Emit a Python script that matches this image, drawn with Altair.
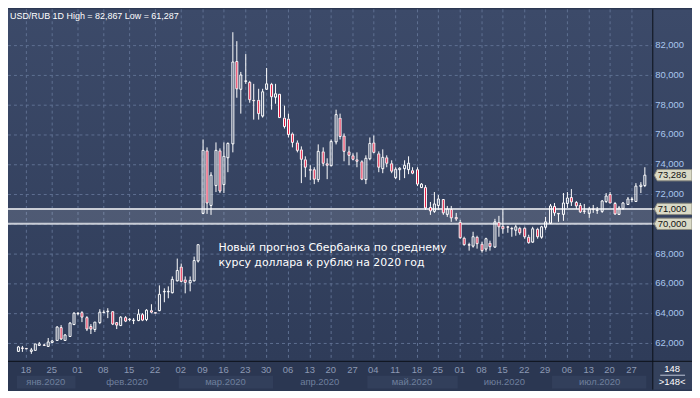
import altair as alt
import pandas as pd

# ---------------- data (USD/RUB daily candles) ----------------
opens = [61.50, 61.68, 61.65, 61.50, 61.56, 61.88, 61.90, 61.82, 62.04, 62.22,
         63.04, 62.22, 62.49, 63.27, 64.00, 64.04, 63.71, 63.11, 62.93, 63.38,
         64.07, 64.13, 64.11, 63.38, 63.20, 63.71, 63.60, 63.55, 63.51, 63.91,
         63.60, 64.20, 64.04, 64.22, 65.44, 65.46, 65.42, 66.22, 67.11, 66.27,
         66.04, 66.22, 67.56, 70.76, 74.93, 71.24, 72.60, 74.93, 72.64, 74.49,
         75.38, 80.93, 79.09, 79.58, 79.53, 78.32, 78.31, 77.27, 79.04, 79.38,
         78.56, 78.71, 77.16, 77.04, 76.04, 75.49, 74.98, 74.31, 73.65, 73.64,
         72.98, 74.87, 74.09, 73.91, 75.53, 77.11, 75.93, 74.87, 74.60, 74.36,
         74.20, 73.02, 74.38, 75.49, 74.76, 73.71, 74.49, 74.09, 73.16, 73.70,
         73.71, 73.64, 73.60, 73.64, 72.49, 72.49, 71.11, 70.89, 71.27, 71.64,
         70.66, 70.98, 70.44, 70.15, 69.04, 68.61, 68.53, 69.15, 68.66, 68.31,
         68.71, 68.44, 70.15, 69.86, 69.78, 69.71, 69.60, 69.71, 69.71, 69.15,
         68.82, 69.64, 69.11, 69.77, 70.09, 71.20, 70.72, 70.66, 71.38, 71.78,
         71.44, 71.27, 70.89, 70.75, 70.98, 70.93, 70.89, 71.51, 72.00, 71.42,
         70.64, 71.04, 71.33, 71.64, 71.55, 72.53, 72.60]
highs = [61.80, 61.78, 61.70, 61.64, 61.96, 62.04, 61.95, 62.33, 62.20, 63.11,
         63.20, 62.60, 63.38, 64.04, 64.04, 64.16, 63.78, 63.27, 63.42, 64.27,
         64.22, 64.31, 64.16, 63.42, 63.78, 63.78, 63.64, 63.64, 64.27, 64.00,
         64.27, 64.60, 64.09, 65.87, 65.64, 65.78, 66.44, 67.64, 67.33, 66.49,
         66.49, 67.82, 68.60, 75.67, 75.11, 73.49, 75.49, 75.09, 75.49, 75.49,
         82.867, 82.27, 80.20, 81.42, 79.60, 79.38, 79.04, 79.04, 80.49, 79.49,
         79.38, 78.75, 77.93, 77.38, 76.16, 75.60, 75.20, 74.53, 73.93, 73.78,
         75.33, 75.16, 74.38, 75.64, 77.64, 77.38, 76.09, 75.20, 74.76, 74.82,
         74.27, 74.60, 75.82, 75.93, 74.89, 74.98, 74.60, 74.27, 73.78, 73.78,
         74.27, 74.53, 73.78, 73.78, 72.71, 72.60, 71.49, 72.16, 71.93, 71.69,
         71.20, 71.20, 70.71, 70.27, 69.15, 68.75, 69.49, 69.20, 68.82, 69.04,
         68.89, 70.31, 70.53, 70.98, 69.86, 69.82, 69.93, 69.82, 69.78, 69.27,
         69.78, 69.71, 69.86, 70.44, 71.33, 71.38, 70.75, 72.09, 72.11, 72.31,
         71.55, 71.38, 71.33, 71.11, 71.27, 71.11, 71.60, 72.04, 72.15, 71.49,
         71.20, 71.49, 71.82, 71.82, 72.75, 72.82, 73.78]
lows = [61.42, 61.38, 61.60, 61.29, 61.52, 61.78, 61.85, 61.71, 62.00, 62.18,
        62.22, 62.18, 62.47, 63.20, 63.87, 63.42, 62.82, 62.58, 62.71, 63.27,
        63.98, 63.64, 63.22, 62.93, 63.11, 63.38, 63.49, 63.24, 63.47, 63.47,
        63.49, 64.00, 64.00, 64.16, 64.71, 64.98, 65.33, 66.11, 66.09, 65.33,
        65.49, 66.16, 67.38, 70.67, 70.67, 70.60, 72.16, 72.04, 72.04, 73.44,
        74.82, 78.49, 77.38, 79.38, 78.16, 76.98, 76.98, 77.16, 79.00, 77.64,
        78.04, 77.12, 76.38, 75.78, 75.16, 74.82, 72.71, 73.16, 72.93, 72.67,
        72.82, 73.87, 73.02, 73.87, 75.33, 75.64, 74.22, 73.96, 74.27, 73.78,
        72.93, 72.64, 74.27, 74.76, 73.49, 73.42, 73.78, 73.42, 73.02, 72.93,
        73.04, 73.33, 73.33, 72.53, 72.38, 70.93, 70.60, 70.71, 70.93, 70.60,
        70.49, 70.16, 70.22, 68.98, 68.53, 68.22, 68.38, 68.31, 68.09, 68.15,
        68.22, 68.38, 69.11, 69.33, 69.42, 69.11, 69.20, 69.27, 68.98, 68.66,
        68.75, 68.98, 68.98, 69.60, 70.00, 70.53, 70.15, 70.22, 71.04, 71.20,
        70.98, 70.71, 70.66, 70.40, 70.71, 70.66, 70.75, 71.42, 71.38, 70.57,
        70.57, 70.93, 71.27, 71.49, 71.49, 72.04, 72.49]
closes = [61.72, 61.66, 61.63, 61.56, 61.93, 61.91, 61.89, 62.04, 62.15, 63.04,
          62.27, 62.53, 63.31, 64.00, 63.98, 63.71, 62.93, 62.93, 63.38, 64.04,
          64.09, 64.16, 63.27, 63.22, 63.71, 63.49, 63.58, 63.56, 63.91, 63.56,
          64.20, 64.04, 64.03, 65.27, 65.47, 65.48, 66.27, 66.89, 66.16, 66.09,
          66.22, 67.56, 68.58, 74.93, 71.42, 73.27, 74.93, 72.22, 74.53, 75.38,
          80.87, 79.09, 80.00, 79.62, 78.31, 78.30, 77.42, 78.87, 79.38, 78.56,
          78.71, 77.16, 76.56, 76.00, 75.49, 74.93, 74.31, 73.78, 73.63, 72.98,
          74.87, 74.09, 73.96, 75.53, 77.33, 75.87, 74.87, 74.60, 74.36, 74.20,
          73.02, 74.38, 75.38, 74.82, 73.78, 74.49, 74.09, 73.56, 73.64, 73.71,
          73.93, 74.04, 73.42, 72.64, 72.64, 71.04, 70.89, 71.33, 71.64, 70.71,
          70.98, 70.38, 70.31, 69.04, 68.60, 68.59, 69.11, 68.66, 68.22, 68.98,
          68.44, 70.15, 69.78, 69.64, 69.77, 69.70, 69.82, 69.42, 69.11, 68.75,
          69.64, 69.11, 69.78, 70.15, 71.20, 70.71, 70.70, 71.38, 71.71, 71.44,
          71.20, 70.82, 70.88, 70.98, 70.97, 70.95, 71.55, 71.86, 71.42, 70.66,
          71.04, 71.38, 71.64, 71.65, 72.53, 72.60, 73.286]

tick_idx = [2, 8, 14, 20, 26, 32, 38, 43, 48, 53, 58, 63, 68, 73, 78, 83, 88, 93,
            98, 103, 108, 113, 118, 123, 128, 133, 138, 143]
tick_lab = ["18", "25", "01", "08", "15", "22", "02", "09", "16", "23", "30",
            "06", "13", "20", "27", "04", "11", "18", "25", "01", "08", "15",
            "22", "29", "06", "13", "20", "27"]
month_names = ["янв.2020", "фев.2020", "мар.2020", "апр.2020", "май.2020",
               "июн.2020", "июл.2020"]
month_start = [-0.2, 13.5, 37.5, 59.5, 81.5, 102.5, 124.5]
month_end = [13.5, 37.5, 59.5, 81.5, 102.5, 124.5, 146.6]
month_band = [1, 0, 1, 0, 1, 0, 1]

grid_vals = [62, 64, 66, 68, 70, 72, 74, 76, 78, 80, 82]
level_vals = [70.0, 71.0]
last_price = 73.286
title_text = "USD/RUB 1D High = 82,867 Low = 61,287"
note_lines = ["Новый прогноз Сбербанка по среднему", " курсу доллара к рублю на 2020 год"]
bars_count = "148"

# ---------------- frames ----------------
n = len(opens)
df = pd.DataFrame({"i": list(range(n)), "o": opens, "h": highs, "l": lows, "c": closes})
df["top"] = df[["o", "c"]].max(axis=1)
df["bot"] = df[["o", "c"]].min(axis=1)

ticks = pd.DataFrame({"i": tick_idx, "lab": tick_lab})
months = pd.DataFrame({"name": month_names, "s": month_start, "e": month_end, "band": month_band})
months["mid"] = (months.s + months.e) / 2
grid = pd.DataFrame({"v": grid_vals,
                     "lab": [f"{v:.3f}".replace(".", ",") for v in grid_vals]})
grid_lab = grid[grid.v != 70]
tags = pd.DataFrame({"v": level_vals + [last_price]})
tags["lab"] = [f"{v:.3f}".replace(".", ",") for v in tags.v]
one = pd.DataFrame({"k": [0]})

W, H = 689, 383
PX, PY = 649, 354  # plot area right / bottom (px)

xs = alt.Scale(domain=[-1.0713, 155.98], nice=False, zero=False, round=True)
ys = alt.Scale(domain=[58.8667, 84.4], nice=False, zero=False, round=True)

FONT = "Liberation Sans"
BG_BOTTOM = "#2b3752"
RED = "#e3143c"

bg = alt.Chart(one).mark_rect(
    color=alt.Gradient(gradient="linear",
                       stops=[alt.GradientStop(color="#3c4a69", offset=0),
                              alt.GradientStop(color="#2f3c59", offset=1)],
                       x1=0, x2=0, y1=0, y2=1)
).encode(x=alt.value(0), x2=alt.value(W), y=alt.value(0), y2=alt.value(PY))

corner = alt.Chart(one).mark_rect(color="#34415c").encode(
    x=alt.value(PX), x2=alt.value(W), y=alt.value(PY), y2=alt.value(H))

bands = alt.Chart(months[months.band == 1]).mark_rect(color="#323f5b").encode(
    x=alt.X("s:Q", scale=xs, axis=None), x2="e:Q",
    y=alt.value(369), y2=alt.value(382))

hgrid = alt.Chart(grid).mark_rule(color="#5f7091", strokeDash=[3, 3], yOffset=0.5).encode(
    y=alt.Y("v:Q", scale=ys, axis=None), x=alt.value(0), x2=alt.value(PX))

vgrid = alt.Chart(ticks).mark_rule(color="#5f7091", strokeDash=[3, 3], xOffset=0.5).encode(
    x=alt.X("i:Q", scale=xs, axis=None), y=alt.value(0), y2=alt.value(PY))

band_7071 = alt.Chart(pd.DataFrame({"a": [level_vals[0]], "b": [level_vals[1]]})).mark_rect(
    color="white", opacity=0.13).encode(
    y=alt.Y("a:Q", scale=ys, axis=None), y2="b:Q", x=alt.value(0), x2=alt.value(652))

level_lines = alt.Chart(pd.DataFrame({"v": level_vals})).mark_rule(
    color="#c9cdd6", strokeWidth=2).encode(
    y=alt.Y("v:Q", scale=ys, axis=None), x=alt.value(0), x2=alt.value(652))

X = alt.X("i:Q", scale=xs, axis=None)
upper = alt.Chart(df).mark_rule(color="white", strokeWidth=1, xOffset=0.5).encode(
    X, y=alt.Y("top:Q", scale=ys, axis=None), y2="h:Q")
lower = alt.Chart(df).mark_rule(color="white", strokeWidth=1, xOffset=0.5).encode(
    X, y=alt.Y("l:Q", scale=ys, axis=None), y2="bot:Q")
body = alt.Chart(df).mark_bar(size=2, stroke="white", strokeWidth=1, xOffset=0.5, yOffset=0.5).encode(
    X, y=alt.Y("o:Q", scale=ys, axis=None), y2="c:Q",
    fill=alt.condition("datum.c < datum.o", alt.value(RED), alt.value("transparent")))

sep_v = alt.Chart(one).mark_rule(color="#0c1018", strokeWidth=1).encode(
    x=alt.value(PX + 0.5), y=alt.value(0), y2=alt.value(H))
sep_h = alt.Chart(one).mark_rule(color="#0c1018", strokeWidth=1).encode(
    y=alt.value(PY + 0.5), x=alt.value(0), x2=alt.value(W))

price_labels = alt.Chart(grid_lab).mark_text(
    font=FONT, fontSize=9.5, color="#a9c6ee", align="left", baseline="middle").encode(
    y=alt.Y("v:Q", scale=ys, axis=None), x=alt.value(652), text="lab:N")

tag_box = alt.Chart(tags).mark_point(
    shape="M -1 0 L -0.84 -0.3 L 1 -0.3 L 1 0.3 L -0.84 0.3 Z",
    size=1444, filled=True, fill="#d9d9c6", stroke="#8c8c80", strokeWidth=1, opacity=1).encode(
    y=alt.Y("v:Q", scale=ys, axis=None), x=alt.value(670))
tag_text = alt.Chart(tags).mark_text(
    font=FONT, fontSize=9.5, color="#111111", align="center", baseline="middle").encode(
    y=alt.Y("v:Q", scale=ys, axis=None), x=alt.value(669), text="lab:N")

day_labels = alt.Chart(ticks).mark_text(
    font=FONT, fontSize=9.5, color="#8b99b4", align="center", baseline="middle").encode(
    x=alt.X("i:Q", scale=xs, axis=None), y=alt.value(363), text="lab:N")

month_labels = alt.Chart(months).mark_text(
    font=FONT, fontSize=9.5, color="#6f7f9d", align="center", baseline="middle").encode(
    x=alt.X("mid:Q", scale=xs, axis=None), y=alt.value(375), text="name:N")

title = alt.Chart(one).mark_text(
    font=FONT, fontSize=9, color="white", align="left", baseline="middle", text=title_text).encode(
    x=alt.value(2), y=alt.value(7))

note1 = alt.Chart(one).mark_text(
    font="DejaVu Sans", fontSize=11, color="white", align="left", baseline="alphabetic",
    text=note_lines[0]).encode(x=alt.value(212), y=alt.value(243))
note2 = alt.Chart(one).mark_text(
    font="DejaVu Sans", fontSize=11, color="white", align="left", baseline="alphabetic",
    text=note_lines[1]).encode(x=alt.value(212), y=alt.value(258))

cnt1 = alt.Chart(one).mark_text(
    font=FONT, fontSize=9.5, color="white", align="center", baseline="middle", text=bars_count).encode(
    x=alt.value(669), y=alt.value(362))
cnt_line = alt.Chart(one).mark_rule(color="#c0c8d8", strokeWidth=1).encode(
    x=alt.value(657), x2=alt.value(682), y=alt.value(368.5))
cnt2 = alt.Chart(one).mark_text(
    font=FONT, fontSize=9.5, color="white", align="center", baseline="middle",
    text=">" + bars_count + "<").encode(x=alt.value(669), y=alt.value(375.5))

chart = alt.layer(
    bg, corner, bands, hgrid, vgrid, band_7071, level_lines,
    upper, lower, body, sep_v, sep_h, price_labels, tag_box, tag_text,
    day_labels, month_labels, title, note1, note2, cnt1, cnt_line, cnt2
).properties(
    width=W, height=H, padding=0, autosize=alt.AutoSizeParams(type="none"),
    background=BG_BOTTOM
).configure_view(stroke=None)

chart.save("out.html", embed_options={"renderer": "svg", "actions": False})
